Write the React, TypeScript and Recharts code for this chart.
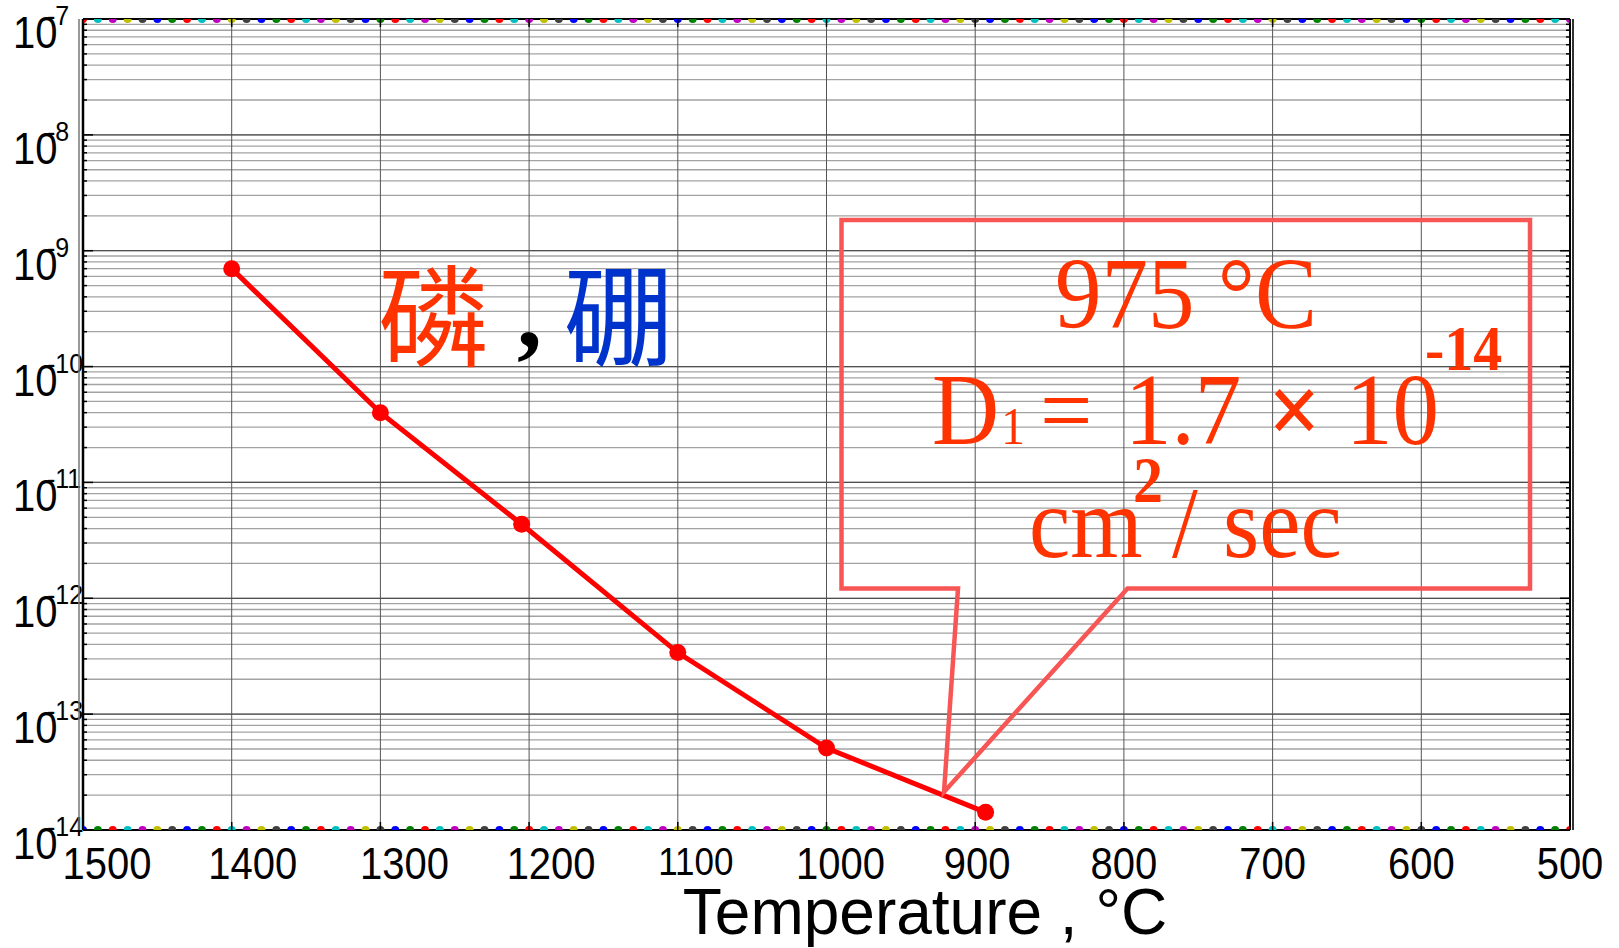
import React from 'react';
import { ComposedChart, Line, Scatter, XAxis, YAxis, CartesianGrid, ReferenceLine } from 'recharts';

// ---- data ----
const temperatures = [1400, 1300, 1205, 1100, 1000, 893];
const diffusivity = [7.0e-10, 4.0e-11, 4.35e-12, 3.4e-13, 5.1e-14, 1.42e-14];

const xTicks = [1500, 1400, 1300, 1200, 1100, 1000, 900, 800, 700, 600, 500];
const yDecadeExponents = [-14, -13, -12, -11, -10, -9, -8, -7];
const yMinorMultipliers = [2, 3, 4, 5, 6, 7, 8, 9];

// decorative border dots (MATLAB colour cycle b g r c m y k)
const borderDotColors = ['#0000FF', '#008000', '#FF0000', '#00BFBF', '#BF00BF', '#BFBF00', '#404040'];
const borderDotStep = 10;

// ---- layout ----
const W = 1619;
const H = 948;
const MARGIN = { top: 19, right: 49, left: 0, bottom: 0 };
const Y_AXIS_W = 83;
const X_AXIS_H = 118;
const PLOT_LEFT = Y_AXIS_W;
const PLOT_RIGHT = W - MARGIN.right;
const PLOT_TOP = MARGIN.top;

const X_LABEL_SHIFT: Record<number, number> = { 1500: 24, 1400: 21, 1300: 24, 1200: 22, 1100: 18, 1000: 14, 900: 2 };

const seriesData = temperatures.map((t, i) => ({ t, d: diffusivity[i] }));
const yMajors = yDecadeExponents.map((e) => Math.pow(10, e));
const yTicks: number[] = [];
yDecadeExponents.forEach((e, i) => {
  yTicks.push(Math.pow(10, e));
  if (i < yDecadeExponents.length - 1) {
    yMinorMultipliers.forEach((m) => yTicks.push(m * Math.pow(10, e)));
  }
});
const dotTemps: number[] = [];
for (let t = xTicks[0]; t >= xTicks[xTicks.length - 1]; t -= borderDotStep) dotTemps.push(t);
const bottomDots = dotTemps.map((t, i) => ({ t, d: yMajors[0], color: borderDotColors[i % 7] }));
const topDots = dotTemps.map((t, i) => ({ t, d: yMajors[yMajors.length - 1], color: borderDotColors[(i + 2) % 7] }));

const SANS = '"Liberation Sans", Arial, Helvetica, sans-serif';
const SERIF = '"Liberation Serif", "Times New Roman", Times, serif';
const CJK = '"Noto Sans CJK TC", "Noto Sans CJK SC", sans-serif';
const RED_TEXT = '#FF3300';

const YTick = (props: any) => {
  const { x, y, payload } = props;
  const v = payload.value;
  const exp = Math.log10(v);
  const isMajor = Math.abs(exp - Math.round(exp)) < 1e-6;
  const len = isMajor ? 10 : 4;
  const e = Math.round(exp);
  return (
    <g>
      <line x1={x} x2={x + len} y1={y} y2={y} stroke="#000" strokeWidth={1.5} />
      <line x1={PLOT_RIGHT} x2={PLOT_RIGHT - len} y1={y} y2={y} stroke="#000" strokeWidth={1.5} />
      {isMajor && (
        <g>
          <g transform={`translate(${x - 70}, ${y + 29}) scale(1,1.1)`}>
            <text x={0} y={0} fontSize={40} fontFamily={SANS} fill="#000">10</text>
          </g>
          <g transform={`translate(${x - 36}, ${y + 6}) scale(1,1.1)`}>
            <text x={0} y={0} fontSize={25} fontFamily={SANS} fill="#000">{`-${Math.abs(e)}`}</text>
          </g>
        </g>
      )}
    </g>
  );
};

const XTick = (props: any) => {
  const { x, y, payload } = props;
  const v = payload.value;
  const dx = X_LABEL_SHIFT[v] ?? 0;
  const small = v === 1100;
  return (
    <g>
      <line x1={x} x2={x} y1={y} y2={y - 8} stroke="#000" strokeWidth={1.5} />
      <line x1={x} x2={x} y1={PLOT_TOP} y2={PLOT_TOP + 8} stroke="#000" strokeWidth={1.5} />
      <g transform={`translate(${x + dx}, ${y + (small ? 45 : 49)}) scale(1,1.1)`}>
        <text x={0} y={0} textAnchor="middle" fontSize={small ? 35 : 40} fontFamily={SANS} fill="#000">{v}</text>
      </g>
    </g>
  );
};

const dotShape = (p: any) => <circle cx={p.cx} cy={p.cy} r={4} fill={(p.payload && p.payload.color) || p.color} />;

const serifText = (x: number, y: number, txt: string, size: number, bold = false, anchor: 'start' | 'middle' = 'start') => (
  <g transform={`translate(${x}, ${y}) scale(1,1.1)`}>
    <text x={0} y={0} fontSize={size} fontFamily={SERIF} fontWeight={bold ? 'bold' : 'normal'} fill={RED_TEXT} textAnchor={anchor}>{txt}</text>
  </g>
);

export default function App() {
  return (
    <div style={{ position: 'absolute', left: 0, top: 0, width: W, height: H, background: '#fff' }}>
      <ComposedChart width={W} height={H} margin={MARGIN}>
        <CartesianGrid vertical={false} stroke="#a3a3a3" strokeWidth={1.3} />
        {xTicks.map((t) => (
          <ReferenceLine key={`vx${t}`} x={t} stroke="#555" strokeWidth={1} />
        ))}
        {yMajors.map((v) => (
          <ReferenceLine key={`hy${v}`} y={v} stroke="#505050" strokeWidth={1.3} />
        ))}
        <ReferenceLine y={yMajors[yMajors.length - 1]} stroke="#000" strokeWidth={1.8} />
        <ReferenceLine y={yMajors[0]} stroke="#000" strokeWidth={1.8} />
        <ReferenceLine x={xTicks[xTicks.length - 1]} stroke="#000" strokeWidth={2} />
        <ReferenceLine x={xTicks[0]} stroke="#000" strokeWidth={2.5} />
        <XAxis
          dataKey="t"
          type="number"
          domain={[xTicks[xTicks.length - 1], xTicks[0]]}
          reversed
          ticks={xTicks}
          interval={0}
          tickSize={0}
          tickMargin={0}
          height={X_AXIS_H}
          axisLine={false}
          tick={<XTick />}
          allowDataOverflow
        />
        <YAxis
          dataKey="d"
          type="number"
          scale="log"
          domain={[yMajors[0], yMajors[yMajors.length - 1]]}
          ticks={yTicks}
          interval={0}
          tickSize={0}
          tickMargin={0}
          width={Y_AXIS_W}
          axisLine={false}
          tick={<YTick />}
          allowDataOverflow
        />
        <Line
          data={seriesData}
          dataKey="d"
          stroke="#FF0000"
          strokeWidth={5}
          dot={{ r: 8.5, fill: '#FF0000', stroke: '#FF0000', strokeWidth: 0 }}
          activeDot={false}
          isAnimationActive={false}
        />
        <Scatter data={bottomDots} dataKey="d" shape={dotShape} isAnimationActive={false} />
        <Scatter data={topDots} dataKey="d" shape={dotShape} isAnimationActive={false} />
      </ComposedChart>
      <svg width={W} height={H} style={{ position: 'absolute', left: 0, top: 0, pointerEvents: 'none' }}>
        <line x1={PLOT_LEFT - 4} x2={PLOT_LEFT - 4} y1={PLOT_TOP} y2={830} stroke="#777" strokeWidth={1.5} />
        <line x1={PLOT_RIGHT + 3} x2={PLOT_RIGHT + 3} y1={PLOT_TOP} y2={830} stroke="#333" strokeWidth={2} />
        {/* Chinese labels */}
        <text x={378} y={358} fontSize={110} fontFamily={CJK} fill={RED_TEXT}>磷</text>
        <text x={517} y={347} fontSize={100} fontFamily={SERIF} fontWeight="bold" fill="#000">,</text>
        <text x={564} y={358} fontSize={110} fontFamily={CJK} fill="#0033CC">硼</text>
        {/* callout */}
        <polygon
          points="841.5,220 1530,220 1530,588.5 1127.5,588.5 944,792 958,588.5 841.5,588.5"
          fill="none"
          stroke="#F85555"
          strokeWidth={4.5}
          strokeLinejoin="miter"
        />
        {serifText(1186, 328, '975 °C', 93, false, 'middle')}
        {serifText(932, 444, 'D', 93)}
        {serifText(1001, 444, '1', 48)}
        {serifText(1040, 444, '=', 93)}
        {serifText(1125, 444, '1.7', 93)}
        {serifText(1268, 444, '×', 93, true)}
        {serifText(1346, 444, '10', 93)}
        {serifText(1425, 370, '-14', 58, true)}
        {serifText(1029, 557, 'cm', 93)}
        {serifText(1133, 502, '2', 60, true)}
        {serifText(1172, 557, '/', 93)}
        {serifText(1223, 557, 'sec', 93)}
        {/* x-axis title */}
        <text x={925} y={934} textAnchor="middle" fontSize={64} fontFamily={SANS} fill="#000">Temperature , °C</text>
      </svg>
    </div>
  );
}
